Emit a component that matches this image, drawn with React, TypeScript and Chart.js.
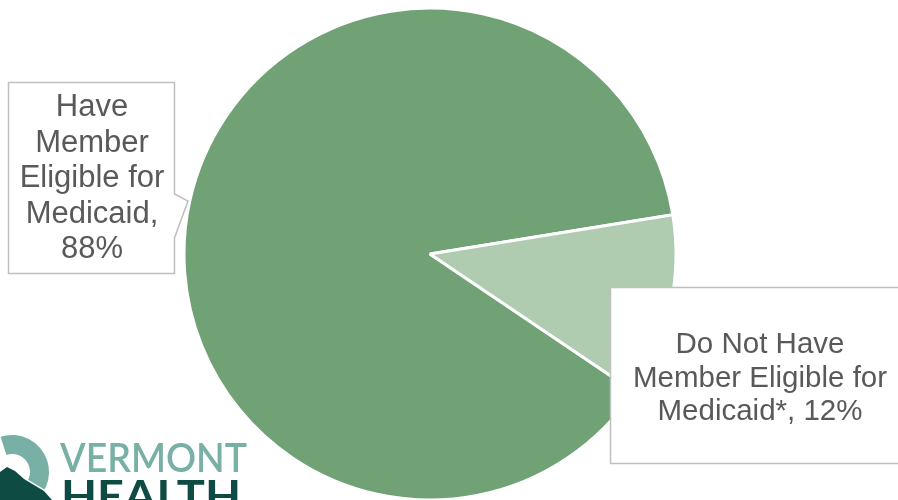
import React, { useEffect, useRef } from "react";
import { Chart, registerables } from "chart.js";

Chart.register(...registerables);

const categories = ["Have Member Eligible for Medicaid", "Do Not Have Member Eligible for Medicaid*"];
const values = [88, 12];
const colors = ["#70A276", "#AFCCB0"];
const leftLabelLines = ["Have", "Member", "Eligible for", "Medicaid,", "88%"];
const rightLabelLines = ["Do Not Have", "Member Eligible for", "Medicaid*, 12%"];
const logoWords = ["VERMONT", "HEALTH"];

const labelPlugin = {
  id: "calloutLabels",
  afterDraw(chart: any) {
    const ctx = chart.ctx as CanvasRenderingContext2D;
    ctx.save();
    // left callout
    ctx.beginPath();
    ctx.moveTo(8.5, 82.5);
    ctx.lineTo(174.5, 82.5);
    ctx.lineTo(174.5, 194);
    ctx.lineTo(188, 201);
    ctx.lineTo(174.5, 238);
    ctx.lineTo(174.5, 273.5);
    ctx.lineTo(8.5, 273.5);
    ctx.closePath();
    ctx.fillStyle = "#FFFFFF";
    ctx.fill();
    ctx.strokeStyle = "#BFBFBF";
    ctx.lineWidth = 1.5;
    ctx.stroke();

    ctx.fillStyle = "#595959";
    ctx.textAlign = "center";
    ctx.textBaseline = "alphabetic";
    ctx.font = "31px 'Liberation Sans', Arial, sans-serif";
    leftLabelLines.forEach((t, i) => ctx.fillText(t, 92, 116 + i * 35.5));

    // right box
    ctx.beginPath();
    ctx.rect(610.5, 287.5, 300, 176);
    ctx.fillStyle = "#FFFFFF";
    ctx.fill();
    ctx.strokeStyle = "#BFBFBF";
    ctx.stroke();
    ctx.fillStyle = "#595959";
    ctx.font = "29.5px 'Liberation Sans', Arial, sans-serif";
    rightLabelLines.forEach((t, i) => ctx.fillText(t, 760, 353 + i * 33.5));

    // logo
    const teal = "#78B0A5";
    const dark = "#0D4B43";
    ctx.beginPath();
    ctx.arc(12, 472, 37, -Math.PI * 0.6, Math.PI * 0.35, false);
    ctx.arc(12, 472, 18, Math.PI * 0.35, -Math.PI * 0.6, true);
    ctx.closePath();
    ctx.fillStyle = teal;
    ctx.fill();
    ctx.beginPath();
    ctx.moveTo(0, 500);
    ctx.lineTo(0, 472);
    ctx.lineTo(7, 467);
    ctx.lineTo(15, 471);
    ctx.lineTo(24, 479);
    ctx.lineTo(34, 485);
    ctx.lineTo(44, 491);
    ctx.lineTo(52, 500);
    ctx.closePath();
    ctx.strokeStyle = "#FFFFFF";
    ctx.lineWidth = 3;
    ctx.stroke();
    ctx.fillStyle = dark;
    ctx.fill();

    ctx.textAlign = "left";
    ctx.font = "600 40px Lato, sans-serif";
    const w1 = ctx.measureText(logoWords[0]).width;
    ctx.save();
    ctx.translate(60, 472);
    ctx.scale(187 / w1, 1);
    ctx.fillStyle = teal;
    ctx.fillText(logoWords[0], 0, 0);
    ctx.restore();
    ctx.font = "bold 42px Lato, sans-serif";
    const w2 = ctx.measureText(logoWords[1]).width;
    ctx.save();
    ctx.translate(61, 511);
    ctx.scale(180 / w2, 1);
    ctx.fillStyle = dark;
    ctx.fillText(logoWords[1], 0, 0);
    ctx.restore();
    ctx.restore();
  },
};

export default function App() {
  const ref = useRef<HTMLCanvasElement>(null);
  useEffect(() => {
    document.body.style.margin = "0";
    const chart = new Chart(ref.current!, {
      type: "pie",
      data: {
        labels: categories,
        datasets: [
          {
            data: values,
            backgroundColor: colors,
            borderColor: "#FFFFFF",
            borderWidth: 3,
          },
        ],
      },
      options: {
        responsive: false,
        animation: false,
        rotation: 124,
        layout: { padding: { left: 182.5, right: 220.5, top: 6.5, bottom: 0.5 } },
        plugins: {
          legend: { display: false },
          tooltip: { enabled: false },
        },
      },
      plugins: [labelPlugin],
    });
    return () => chart.destroy();
  }, []);
  return (
    <div style={{ width: 898, height: 500, overflow: "hidden" }}>
      <canvas ref={ref} width={898} height={502} style={{ display: "block" }} />
    </div>
  );
}
